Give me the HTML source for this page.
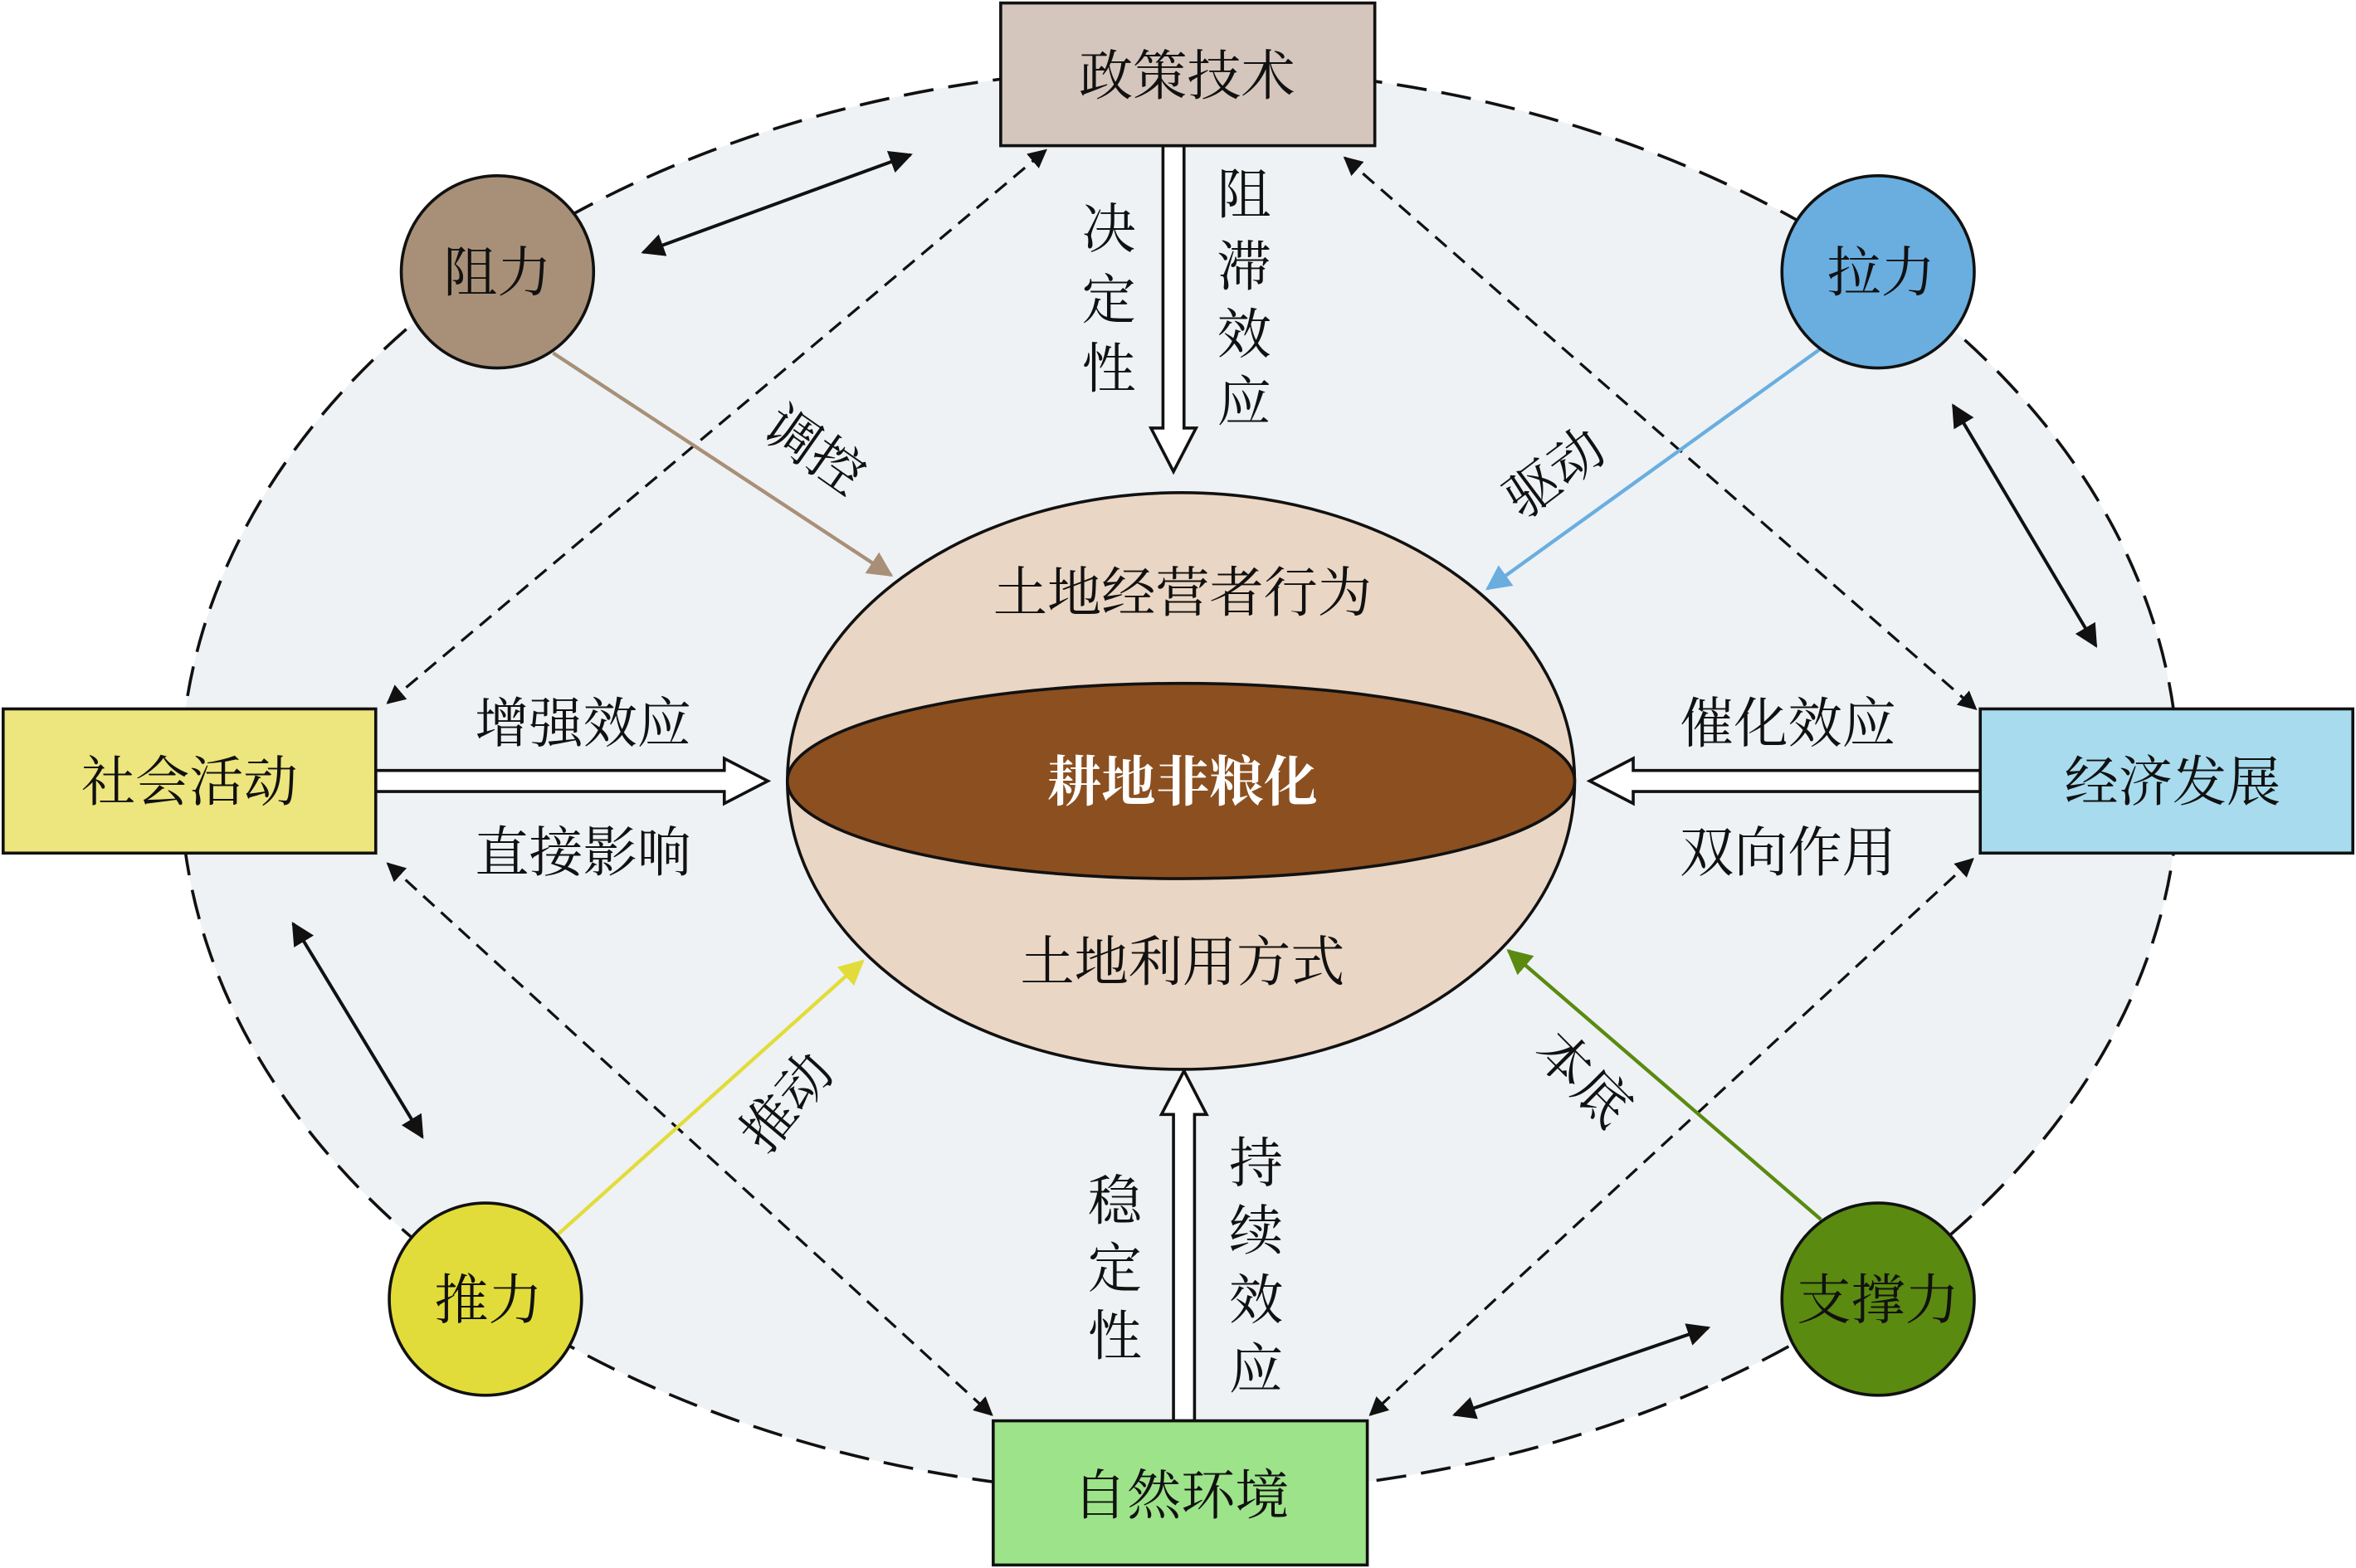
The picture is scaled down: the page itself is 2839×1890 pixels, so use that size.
<!DOCTYPE html>
<html><head><meta charset="utf-8"><style>
html,body{margin:0;padding:0;background:#fff;}
svg{display:block;}
text{font-family:"Liberation Serif","Noto Serif CJK SC","Noto Sans CJK SC",serif;fill:#111;}
</style></head><body>
<svg width="2839" height="1890" viewBox="0 0 1568 1044" xmlns="http://www.w3.org/2000/svg">
<defs>
<marker id="ak" viewBox="0 0 10 10" refX="9" refY="5" markerWidth="7" markerHeight="7" orient="auto-start-reverse"><path d="M0,0L10,5L0,10z" fill="#111"/></marker>
<marker id="at" viewBox="0 0 10 10" refX="9" refY="5" markerWidth="7" markerHeight="7" orient="auto"><path d="M0,0L10,5L0,10z" fill="#a89078"/></marker>
<marker id="ab" viewBox="0 0 10 10" refX="9" refY="5" markerWidth="7" markerHeight="7" orient="auto"><path d="M0,0L10,5L0,10z" fill="#6aaee0"/></marker>
<marker id="ay" viewBox="0 0 10 10" refX="9" refY="5" markerWidth="7" markerHeight="7" orient="auto"><path d="M0,0L10,5L0,10z" fill="#e2dc3a"/></marker>
<marker id="ag" viewBox="0 0 10 10" refX="9" refY="5" markerWidth="7" markerHeight="7" orient="auto"><path d="M0,0L10,5L0,10z" fill="#5a8a10"/></marker>
</defs>
<ellipse cx="785" cy="520" rx="665" ry="475" fill="#eef2f4" stroke="#111" stroke-width="2" stroke-dasharray="20,10"/>
<g stroke="#111" stroke-width="1.8" stroke-dasharray="10,6" fill="none">
<line x1="258" y1="468" x2="696" y2="100" marker-start="url(#ak)" marker-end="url(#ak)"/>
<line x1="895" y1="105" x2="1315" y2="472" marker-start="url(#ak)" marker-end="url(#ak)"/>
<line x1="258" y1="575" x2="660" y2="942" marker-start="url(#ak)" marker-end="url(#ak)"/>
<line x1="1313" y1="572" x2="912" y2="942" marker-start="url(#ak)" marker-end="url(#ak)"/>
</g>
<g stroke="#111" stroke-width="2.2" fill="none">
<line x1="428" y1="168" x2="606" y2="103" marker-start="url(#ak)" marker-end="url(#ak)"/>
<line x1="1300" y1="270" x2="1395" y2="430" marker-start="url(#ak)" marker-end="url(#ak)"/>
<line x1="195" y1="615" x2="281" y2="757" marker-start="url(#ak)" marker-end="url(#ak)"/>
<line x1="968" y1="942" x2="1137" y2="884" marker-start="url(#ak)" marker-end="url(#ak)"/>
</g>
<line x1="368" y1="235" x2="593" y2="383" stroke="#a89078" stroke-width="2.4" marker-end="url(#at)"/>
<line x1="1212" y1="232" x2="990" y2="392" stroke="#6aaee0" stroke-width="2.4" marker-end="url(#ab)"/>
<line x1="370" y1="823" x2="574" y2="640" stroke="#e2dc3a" stroke-width="2.4" marker-end="url(#ay)"/>
<line x1="1212" y1="812" x2="1004" y2="633" stroke="#5a8a10" stroke-width="2.4" marker-end="url(#ag)"/>
<ellipse cx="786" cy="520" rx="262" ry="192" fill="#ead6c4" stroke="#111" stroke-width="2"/>
<ellipse cx="786" cy="520" rx="262" ry="65" fill="#8b4f20" stroke="#111" stroke-width="2"/>
<g fill="#fff" stroke="#111" stroke-width="2">
<path d="M774,97 L788,97 L788,285 L796,285 L781,314 L766,285 L774,285 Z"/>
<path d="M781,946 L795,946 L795,742 L803,742 L788,713 L773,742 L781,742 Z"/>
<path d="M250,513 L482,513 L482,505 L511,520 L482,535 L482,527 L250,527 Z"/>
<path d="M1318,513 L1087,513 L1087,505 L1058,520 L1087,535 L1087,527 L1318,527 Z"/>
</g>
<g stroke="#111" stroke-width="2">
<rect x="666" y="2" width="249" height="95" fill="#d5c6bd"/>
<rect x="2" y="472" width="248" height="96" fill="#ede57d"/>
<rect x="1318" y="472" width="248" height="96" fill="#a8dbee"/>
<rect x="661" y="946" width="249" height="96" fill="#9de38a"/>
<circle cx="331" cy="181" r="64" fill="#a89078"/>
<circle cx="1250" cy="181" r="64" fill="#6aaee0"/>
<circle cx="323" cy="865" r="64" fill="#e2dc3a"/>
<circle cx="1250" cy="865" r="64" fill="#5a8a10"/>
</g>
<g font-size="36" text-anchor="middle">
<text x="790" y="63">政策技术</text>
<text x="126" y="533">社会活动</text>
<text x="1446" y="533">经济发展</text>
<text x="786" y="1008">自然环境</text>
<text x="331" y="194">阻力</text>
<text x="1252" y="194">拉力</text>
<text x="325" y="878">推力</text>
<text x="1250" y="878">支撑力</text>
<text x="787" y="407">土地经营者行为</text>
<text x="787" y="653">土地利用方式</text>
<text x="787" y="533" style="fill:#fff" font-weight="bold">耕地非粮化</text>
<text x="388" y="494">增强效应</text>
<text x="388" y="580">直接影响</text>
<text x="1190" y="494">催化效应</text>
<text x="1190" y="580">双向作用</text>
<text x="738" y="165">决</text><text x="738" y="212">定</text><text x="738" y="258">性</text>
<text x="828" y="142">阻</text><text x="828" y="190">滞</text><text x="828" y="235">效</text><text x="828" y="280">应</text>
<text x="742" y="812">稳</text><text x="742" y="857">定</text><text x="742" y="902">性</text>
<text x="836" y="787">持</text><text x="836" y="832">续</text><text x="836" y="878">效</text><text x="836" y="924">应</text>
<text transform="translate(535,310) rotate(35)">调控</text>
<text transform="translate(1042,325) rotate(-37)">驱动</text>
<text transform="translate(533,742) rotate(-50)">推动</text>
<text transform="translate(1045,727) rotate(45)">本底</text>
</g>
</svg>
</body></html>
